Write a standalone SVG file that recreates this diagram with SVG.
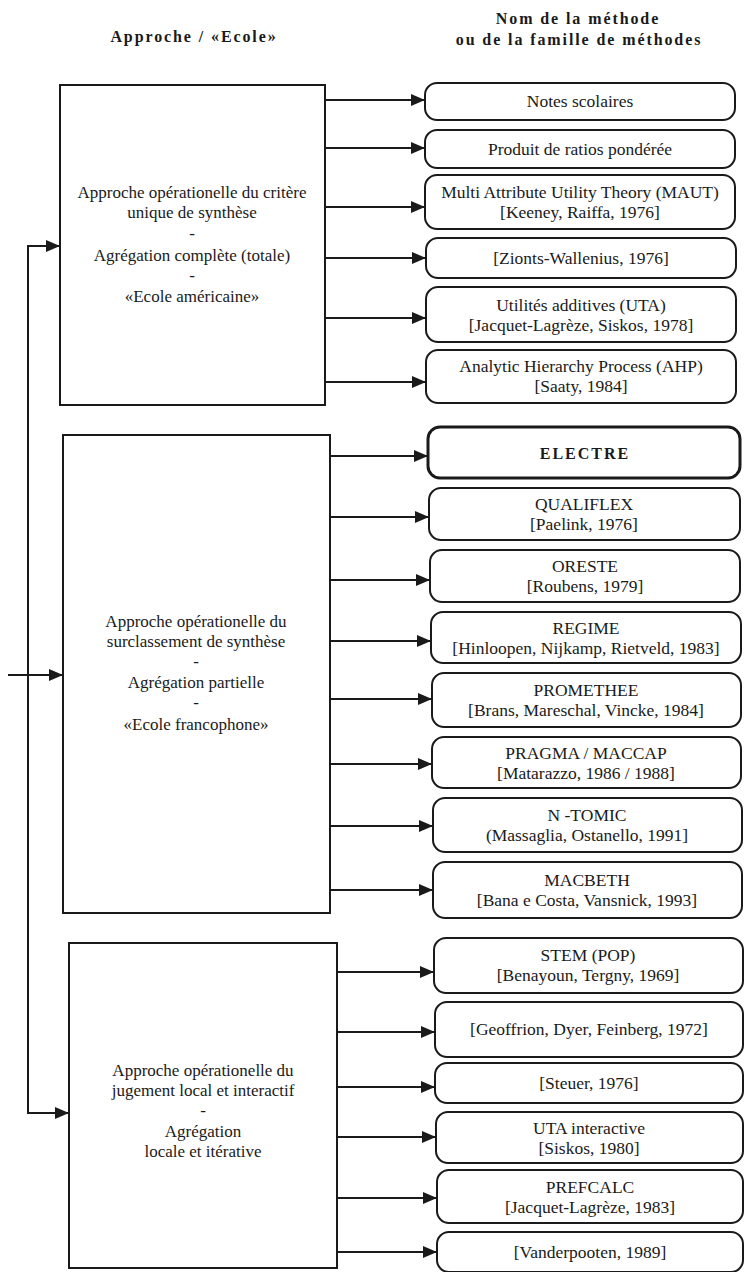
<svg xmlns="http://www.w3.org/2000/svg" width="744" height="1272" viewBox="0 0 744 1272">
<style>
.lbox{fill:#fff;stroke:#1a1a1a;stroke-width:2}
.rbox{fill:#fff;stroke:#1a1a1a;stroke-width:2}
.bold{stroke-width:3}
.t{font-family:"Liberation Serif","Times New Roman",serif;font-size:17px;fill:#1a1a1a;text-anchor:middle}
.r{font-size:17.5px}
.h{font-weight:bold;font-size:16px;letter-spacing:1.9px}
.e{font-weight:bold;font-size:16px;letter-spacing:2px}
.conn{stroke:#1a1a1a;stroke-width:2;fill:none}
</style>
<defs>
<marker id="ah" markerUnits="userSpaceOnUse" markerWidth="14" markerHeight="12" viewBox="0 0 14 12" refX="14" refY="6" orient="auto-start-reverse"><path d="M0,0 L14,6 L0,12 Z" fill="#1a1a1a"/></marker>
</defs>
<rect width="744" height="1272" fill="#fff"/>
<g id="headers">
<text class="t h" x="194" y="42">Approche / «Ecole»</text>
<text class="t h" x="578" y="24">Nom de la méthode</text>
<text class="t h" x="579" y="45">ou de la famille de méthodes</text>
</g>
<g id="approche-critere-unique">
<rect class="lbox" x="60" y="85" width="265" height="320"/>
<text class="t" x="192" y="198">Approche opérationelle du critère</text>
<text class="t" x="192" y="218">unique de synthèse</text>
<text class="t" x="192" y="239">-</text>
<text class="t" x="192" y="261">Agrégation complète (totale)</text>
<text class="t" x="192" y="281">-</text>
<text class="t" x="192" y="302">«Ecole américaine»</text>
</g>
<g id="approche-surclassement">
<rect class="lbox" x="63" y="435" width="267" height="478"/>
<text class="t" x="196" y="627">Approche opérationelle du</text>
<text class="t" x="196" y="647">surclassement de synthèse</text>
<text class="t" x="196" y="667">-</text>
<text class="t" x="196" y="688">Agrégation partielle</text>
<text class="t" x="196" y="708">-</text>
<text class="t" x="196" y="730">«Ecole francophone»</text>
</g>
<g id="approche-jugement-local">
<rect class="lbox" x="69" y="943" width="268" height="325"/>
<text class="t" x="203" y="1076">Approche opérationelle du</text>
<text class="t" x="203" y="1096">jugement local et interactif</text>
<text class="t" x="203" y="1116">-</text>
<text class="t" x="203" y="1137">Agrégation</text>
<text class="t" x="203" y="1157">locale et itérative</text>
</g>
<g id="notes-scolaires"><rect class="rbox" x="425" y="83" width="310" height="37" rx="12"/><text class="t r" x="580" y="107">Notes scolaires</text></g>
<g id="produit-ratios"><rect class="rbox" x="425" y="130" width="310" height="38" rx="12"/><text class="t r" x="580" y="155">Produit de ratios pondérée</text></g>
<g id="maut"><rect class="rbox" x="425" y="175" width="310" height="54" rx="12"/><text class="t r" x="580" y="198">Multi Attribute Utility Theory (MAUT)</text><text class="t r" x="580" y="218">[Keeney, Raiffa, 1976]</text></g>
<g id="zionts"><rect class="rbox" x="426" y="238" width="310" height="40" rx="12"/><text class="t r" x="581" y="264">[Zionts-Wallenius, 1976]</text></g>
<g id="uta"><rect class="rbox" x="426" y="287" width="310" height="55" rx="12"/><text class="t r" x="581" y="311">Utilités additives (UTA)</text><text class="t r" x="581" y="331">[Jacquet-Lagrèze, Siskos, 1978]</text></g>
<g id="ahp"><rect class="rbox" x="426" y="350" width="310" height="53" rx="12"/><text class="t r" x="581" y="372">Analytic Hierarchy Process (AHP)</text><text class="t r" x="581" y="392">[Saaty, 1984]</text></g>
<g id="electre"><rect class="rbox bold" x="428" y="427" width="312" height="51" rx="12"/><text class="t e" x="585" y="459">ELECTRE</text></g>
<g id="qualiflex"><rect class="rbox" x="429" y="488" width="311" height="52" rx="12"/><text class="t r" x="584" y="510">QUALIFLEX</text><text class="t r" x="584" y="530">[Paelink, 1976]</text></g>
<g id="oreste"><rect class="rbox" x="430" y="550" width="310" height="52" rx="12"/><text class="t r" x="585" y="572">ORESTE</text><text class="t r" x="585" y="592">[Roubens, 1979]</text></g>
<g id="regime"><rect class="rbox" x="431" y="612" width="310" height="51" rx="12"/><text class="t r" x="586" y="634">REGIME</text><text class="t r" x="586" y="654">[Hinloopen, Nijkamp, Rietveld, 1983]</text></g>
<g id="promethee"><rect class="rbox" x="432" y="673" width="309" height="54" rx="12"/><text class="t r" x="586" y="696">PROMETHEE</text><text class="t r" x="586" y="716">[Brans, Mareschal, Vincke, 1984]</text></g>
<g id="pragma"><rect class="rbox" x="432" y="737" width="309" height="51" rx="12"/><text class="t r" x="586" y="759">PRAGMA / MACCAP</text><text class="t r" x="586" y="779">[Matarazzo, 1986 / 1988]</text></g>
<g id="ntomic"><rect class="rbox" x="433" y="798" width="309" height="54" rx="12"/><text class="t r" x="587" y="821">N -TOMIC</text><text class="t r" x="587" y="841">(Massaglia, Ostanello, 1991]</text></g>
<g id="macbeth"><rect class="rbox" x="433" y="862" width="309" height="56" rx="12"/><text class="t r" x="587" y="886">MACBETH</text><text class="t r" x="587" y="906">[Bana e Costa, Vansnick, 1993]</text></g>
<g id="stem"><rect class="rbox" x="434" y="938" width="309" height="55" rx="12"/><text class="t r" x="588" y="961">STEM (POP)</text><text class="t r" x="588" y="981">[Benayoun, Tergny, 1969]</text></g>
<g id="geoffrion"><rect class="rbox" x="435" y="1002" width="308" height="55" rx="12"/><text class="t r" x="589" y="1035">[Geoffrion, Dyer, Feinberg, 1972]</text></g>
<g id="steuer"><rect class="rbox" x="435" y="1063" width="308" height="40" rx="12"/><text class="t r" x="589" y="1089">[Steuer, 1976]</text></g>
<g id="uta-interactive"><rect class="rbox" x="436" y="1112" width="307" height="51" rx="12"/><text class="t r" x="589" y="1134">UTA interactive</text><text class="t r" x="589" y="1154">[Siskos, 1980]</text></g>
<g id="prefcalc"><rect class="rbox" x="437" y="1170" width="306" height="53" rx="12"/><text class="t r" x="590" y="1193">PREFCALC</text><text class="t r" x="590" y="1213">[Jacquet-Lagrèze, 1983]</text></g>
<g id="vanderpooten"><rect class="rbox" x="437" y="1232" width="306" height="40" rx="12"/><text class="t r" x="590" y="1258">[Vanderpooten, 1989]</text></g>
<g id="connectors">
<path class="conn" marker-start="url(#ah)" marker-end="url(#ah)" d="M60,246 H28 V1113 H69"/>
<path class="conn" marker-end="url(#ah)" d="M8,675 H63"/>
<path class="conn" marker-end="url(#ah)" d="M325,100 H425"/>
<path class="conn" marker-end="url(#ah)" d="M325,148 H425"/>
<path class="conn" marker-end="url(#ah)" d="M325,207 H425"/>
<path class="conn" marker-end="url(#ah)" d="M325,258 H426"/>
<path class="conn" marker-end="url(#ah)" d="M325,318 H426"/>
<path class="conn" marker-end="url(#ah)" d="M325,382 H426"/>
<path class="conn" marker-end="url(#ah)" d="M330,456 H428"/>
<path class="conn" marker-end="url(#ah)" d="M330,517 H429"/>
<path class="conn" marker-end="url(#ah)" d="M330,580 H430"/>
<path class="conn" marker-end="url(#ah)" d="M330,641 H431"/>
<path class="conn" marker-end="url(#ah)" d="M330,699 H432"/>
<path class="conn" marker-end="url(#ah)" d="M330,764 H432"/>
<path class="conn" marker-end="url(#ah)" d="M330,826 H433"/>
<path class="conn" marker-end="url(#ah)" d="M330,890 H433"/>
<path class="conn" marker-end="url(#ah)" d="M337,972 H434"/>
<path class="conn" marker-end="url(#ah)" d="M337,1032 H435"/>
<path class="conn" marker-end="url(#ah)" d="M337,1087 H435"/>
<path class="conn" marker-end="url(#ah)" d="M337,1137 H436"/>
<path class="conn" marker-end="url(#ah)" d="M337,1198 H437"/>
<path class="conn" marker-end="url(#ah)" d="M337,1252 H437"/>
</g>
</svg>
